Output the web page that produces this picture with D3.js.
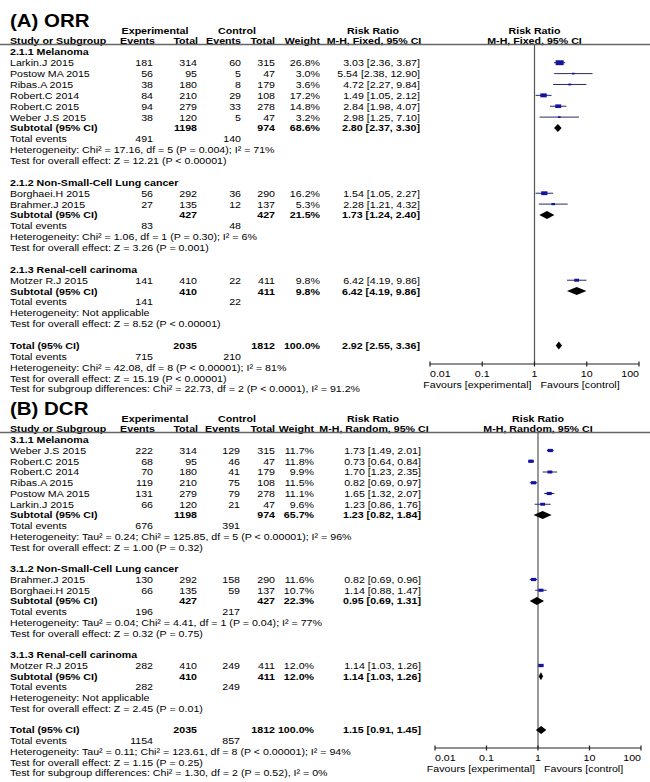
<!DOCTYPE html>
<html>
<head>
<meta charset="utf-8">
<script src="https://cdn.jsdelivr.net/npm/d3@7"></script>
<style>
  body { margin: 0; background: #fff; }
  text { font-family: "Liberation Sans", Arial, sans-serif; fill: #000; }
</style>
</head>
<body>
<script>
// ---------- (A) ORR data ----------
var orrGroups = ["2.1.1 Melanoma", "2.1.2 Non-Small-Cell Lung cancer", "2.1.3 Renal-cell carinoma"];
var orrStudy = ["Larkin.J 2015", "Postow MA 2015", "Ribas.A 2015", "Robert.C 2014", "Robert.C 2015", "Weber J.S 2015",
                "Borghaei.H 2015", "Brahmer.J 2015", "Motzer R.J 2015"];
var orrGroupOf = [0, 0, 0, 0, 0, 0, 1, 1, 2];
var orrExpEvents = [181, 56, 38, 84, 94, 38, 56, 27, 141];
var orrExpTotal  = [314, 95, 180, 210, 279, 120, 292, 135, 410];
var orrCtlEvents = [60, 5, 8, 29, 33, 5, 36, 12, 22];
var orrCtlTotal  = [315, 47, 179, 108, 278, 47, 290, 137, 411];
var orrWeight    = [26.8, 3.0, 3.6, 17.2, 14.8, 3.2, 16.2, 5.3, 9.8];
var orrRR        = [3.03, 5.54, 4.72, 1.49, 2.84, 2.98, 1.54, 2.28, 6.42];
var orrLo        = [2.36, 2.38, 2.27, 1.05, 1.98, 1.25, 1.05, 1.21, 4.19];
var orrHi        = [3.87, 12.90, 9.84, 2.12, 4.07, 7.10, 2.27, 4.32, 9.86];

var orrSubExpTotal = [1198, 427, 410];
var orrSubCtlTotal = [974, 427, 411];
var orrSubWeight   = [68.6, 21.5, 9.8];
var orrSubRR       = [2.80, 1.73, 6.42];
var orrSubLo       = [2.37, 1.24, 4.19];
var orrSubHi       = [3.30, 2.40, 9.86];
var orrSubExpEv    = [491, 83, 141];
var orrSubCtlEv    = [140, 48, 22];
var orrSubHet = ["Heterogeneity: Chi\u00b2 = 17.16, df = 5 (P = 0.004); I\u00b2 = 71%",
                 "Heterogeneity: Chi\u00b2 = 1.06, df = 1 (P = 0.30); I\u00b2 = 6%",
                 "Heterogeneity: Not applicable"];
var orrSubTest = ["Test for overall effect: Z = 12.21 (P < 0.00001)",
                  "Test for overall effect: Z = 3.26 (P = 0.001)",
                  "Test for overall effect: Z = 8.52 (P < 0.00001)"];
var orrTotal = { expTotal: 2035, ctlTotal: 1812, weight: 100.0, rr: 2.92, lo: 2.55, hi: 3.36, expEv: 715, ctlEv: 210 };
var orrFooter = ["Heterogeneity: Chi\u00b2 = 42.08, df = 8 (P < 0.00001); I\u00b2 = 81%",
                 "Test for overall effect: Z = 15.19 (P < 0.00001)",
                 "Test for subgroup differences: Chi\u00b2 = 22.73, df = 2 (P < 0.0001), I\u00b2 = 91.2%"];

// ---------- (B) DCR data ----------
var dcrGroups = ["3.1.1 Melanoma", "3.1.2 Non-Small-Cell Lung cancer", "3.1.3 Renal-cell carinoma"];
var dcrStudy = ["Weber J.S 2015", "Robert.C 2015", "Robert.C 2014", "Ribas.A 2015", "Postow MA 2015", "Larkin.J 2015",
                "Brahmer.J 2015", "Borghaei.H 2015", "Motzer R.J 2015"];
var dcrGroupOf = [0, 0, 0, 0, 0, 0, 1, 1, 2];
var dcrExpEvents = [222, 68, 70, 119, 131, 66, 130, 66, 282];
var dcrExpTotal  = [314, 95, 180, 210, 279, 120, 292, 135, 410];
var dcrCtlEvents = [129, 46, 41, 75, 79, 21, 158, 59, 249];
var dcrCtlTotal  = [315, 47, 179, 108, 278, 47, 290, 137, 411];
var dcrWeight    = [11.7, 11.8, 9.9, 11.5, 11.1, 9.6, 11.6, 10.7, 12.0];
var dcrRR        = [1.73, 0.73, 1.70, 0.82, 1.65, 1.23, 0.82, 1.14, 1.14];
var dcrLo        = [1.49, 0.64, 1.23, 0.69, 1.32, 0.86, 0.69, 0.88, 1.03];
var dcrHi        = [2.01, 0.84, 2.35, 0.97, 2.07, 1.76, 0.96, 1.47, 1.26];

var dcrSubExpTotal = [1198, 427, 410];
var dcrSubCtlTotal = [974, 427, 411];
var dcrSubWeight   = [65.7, 22.3, 12.0];
var dcrSubRR       = [1.23, 0.95, 1.14];
var dcrSubLo       = [0.82, 0.69, 1.03];
var dcrSubHi       = [1.84, 1.31, 1.26];
var dcrSubExpEv    = [676, 196, 282];
var dcrSubCtlEv    = [391, 217, 249];
var dcrSubHet = ["Heterogeneity: Tau\u00b2 = 0.24; Chi\u00b2 = 125.85, df = 5 (P < 0.00001); I\u00b2 = 96%",
                 "Heterogeneity: Tau\u00b2 = 0.04; Chi\u00b2 = 4.41, df = 1 (P = 0.04); I\u00b2 = 77%",
                 "Heterogeneity: Not applicable"];
var dcrSubTest = ["Test for overall effect: Z = 1.00 (P = 0.32)",
                  "Test for overall effect: Z = 0.32 (P = 0.75)",
                  "Test for overall effect: Z = 2.45 (P = 0.01)"];
var dcrTotal = { expTotal: 2035, ctlTotal: 1812, weight: 100.0, rr: 1.15, lo: 0.91, hi: 1.45, expEv: 1154, ctlEv: 857 };
var dcrFooter = ["Heterogeneity: Tau\u00b2 = 0.11; Chi\u00b2 = 123.61, df = 8 (P < 0.00001); I\u00b2 = 94%",
                 "Test for overall effect: Z = 1.15 (P = 0.25)",
                 "Test for subgroup differences: Chi\u00b2 = 1.30, df = 2 (P = 0.52), I\u00b2 = 0%"];

var axisTicks = [0.01, 0.1, 1, 10, 100];
var axisTickLabels = ["0.01", "0.1", "1", "10", "100"];

// ---------- drawing ----------
var FS = 9.5;   // font size
var SX = 1.12;  // horizontal stretch of the source image

var svg = d3.select("body").append("svg")
            .attr("width", 650)
            .attr("height", 782);

function label(g, x, y, s, anchor, bold) {
  return g.append("text")
          .attr("transform", "translate(" + x + "," + y + ") scale(" + SX + ",1)")
          .attr("text-anchor", anchor || "start")
          .attr("font-size", FS)
          .attr("font-weight", bold ? "bold" : "normal")
          .text(s);
}

function fmtCI(rr, lo, hi) {
  return rr.toFixed(2) + " [" + lo.toFixed(2) + ", " + hi.toFixed(2) + "]";
}

function drawPanel(p, d) {
  var g = svg.append("g");
  var rowY = function (i) { return p.top + p.step * i; };
  var base = function (i) { return rowY(i) + 3.4; };
  var x = d3.scaleLog().domain([0.01, 100]).range(p.range);
  var col = p.cols; // right edges of numeric columns

  // title
  g.append("text")
   .attr("transform", "translate(10," + p.titleY + ") scale(1.17,1)")
   .attr("font-family", "Lato, 'Open Sans', sans-serif")
   .attr("font-weight", "bold")
   .attr("font-size", 17.5)
   .text(p.title);

  // header rows
  label(g, 155, base(0), "Experimental", "middle", true);
  label(g, 237, base(0), "Control", "middle", true);
  label(g, 373, base(0), "Risk Ratio", "middle", true);
  label(g, x(1), base(0), "Risk Ratio", "middle", true);
  label(g, 10, base(1), "Study or Subgroup", "start", true);
  label(g, col.expEv + 2, base(1), "Events", "end", true);
  label(g, col.expTot + 1, base(1), "Total", "end", true);
  label(g, col.ctlEv, base(1), "Events", "end", true);
  label(g, col.ctlTot, base(1), "Total", "end", true);
  label(g, col.weight, base(1), "Weight", "end", true);
  label(g, 374, base(1), p.method, "middle", true);
  label(g, x(1), base(1), p.method, "middle", true);

  var lineY = rowY(1) + 3.5;
  g.append("line").attr("x1", 0).attr("x2", 650).attr("y1", lineY).attr("y2", lineY)
   .attr("stroke", "#666").attr("stroke-width", 1.3);

  var i = 2;
  var studies = [], diamonds = [];
  d.groups.forEach(function (name, gi) {
    label(g, 10, base(i), name, "start", true); i++;
    d.groupOf.forEach(function (k, s) {
      if (k !== gi) return;
      label(g, 10, base(i), d.study[s]);
      label(g, col.expEv, base(i), d.expEvents[s], "end");
      label(g, col.expTot, base(i), d.expTotal[s], "end");
      label(g, col.ctlEv, base(i), d.ctlEvents[s], "end");
      label(g, col.ctlTot, base(i), d.ctlTotal[s], "end");
      label(g, col.weight, base(i), d.weight[s].toFixed(1) + "%", "end");
      label(g, col.rr, base(i), fmtCI(d.rr[s], d.lo[s], d.hi[s]), "end");
      studies.push({ y: rowY(i), rr: d.rr[s], lo: d.lo[s], hi: d.hi[s], w: d.weight[s] });
      i++;
    });
    label(g, 10, base(i), "Subtotal (95% CI)", "start", true);
    label(g, col.expTot, base(i), d.subExpTotal[gi], "end", true);
    label(g, col.ctlTot, base(i), d.subCtlTotal[gi], "end", true);
    label(g, col.weight, base(i), d.subWeight[gi].toFixed(1) + "%", "end", true);
    label(g, col.rr, base(i), fmtCI(d.subRR[gi], d.subLo[gi], d.subHi[gi]), "end", true);
    diamonds.push({ y: rowY(i), rr: d.subRR[gi], lo: d.subLo[gi], hi: d.subHi[gi] });
    i++;
    label(g, 10, base(i), "Total events");
    label(g, col.expEv, base(i), d.subExpEv[gi], "end");
    label(g, col.ctlEv, base(i), d.subCtlEv[gi], "end");
    i++;
    label(g, 10, base(i), d.subHet[gi]); i++;
    label(g, 10, base(i), d.subTest[gi]); i++;
    i++; // blank row
  });

  var t = d.total;
  label(g, 10, base(i), "Total (95% CI)", "start", true);
  label(g, col.expTot, base(i), t.expTotal, "end", true);
  label(g, col.ctlTot, base(i), t.ctlTotal, "end", true);
  label(g, col.weight, base(i), t.weight.toFixed(1) + "%", "end", true);
  label(g, col.rr, base(i), fmtCI(t.rr, t.lo, t.hi), "end", true);
  diamonds.push({ y: rowY(i), rr: t.rr, lo: t.lo, hi: t.hi });
  i++;
  label(g, 10, base(i), "Total events");
  label(g, col.expEv, base(i), t.expEv, "end");
  label(g, col.ctlEv, base(i), t.ctlEv, "end");
  i++;
  d.footer.forEach(function (s) { label(g, 10, base(i), s); i++; });

  // forest plot
  var axisY = p.axisY;
  g.append("line").attr("x1", x(1)).attr("x2", x(1)).attr("y1", lineY).attr("y2", axisY)
   .attr("stroke", "#555").attr("stroke-width", 1.2);

  g.selectAll("line.ci").data(studies).enter().append("line")
   .attr("class", "ci")
   .attr("x1", function (s) { return x(s.lo); })
   .attr("x2", function (s) { return x(s.hi); })
   .attr("y1", function (s) { return s.y; })
   .attr("y2", function (s) { return s.y; })
   .attr("stroke", "#2a2a60").attr("stroke-width", 1);

  g.selectAll("rect.sq").data(studies).enter().append("rect")
   .attr("class", "sq")
   .attr("x", function (s) { return x(s.rr) - 0.775 * Math.sqrt(s.w); })
   .attr("y", function (s) { return s.y - 0.5 * Math.max(1.6, 0.95 * Math.sqrt(s.w)); })
   .attr("width", function (s) { return 1.55 * Math.sqrt(s.w); })
   .attr("height", function (s) { return Math.max(1.6, 0.95 * Math.sqrt(s.w)); })
   .attr("fill", "#1414a0");

  g.selectAll("path.dm").data(diamonds).enter().append("path")
   .attr("class", "dm")
   .attr("d", function (s) {
     var h = 4;
     return "M" + x(s.lo) + "," + s.y + "L" + x(s.rr) + "," + (s.y - h) +
            "L" + x(s.hi) + "," + s.y + "L" + x(s.rr) + "," + (s.y + h) + "Z";
   })
   .attr("fill", "#000");

  // axis
  g.append("line").attr("x1", p.range[0]).attr("x2", p.range[1]).attr("y1", axisY).attr("y2", axisY)
   .attr("stroke", "#222").attr("stroke-width", 1.2);
  g.selectAll("line.tk").data(axisTicks).enter().append("line")
   .attr("class", "tk")
   .attr("x1", function (v) { return x(v); }).attr("x2", function (v) { return x(v); })
   .attr("y1", axisY - 2.5).attr("y2", axisY + 2.5)
   .attr("stroke", "#222").attr("stroke-width", 1.2);
  axisTicks.forEach(function (v, k) {
    var anchor = k === 0 ? "start" : (k === axisTicks.length - 1 ? "end" : "middle");
    label(g, x(v), axisY + 12.5, axisTickLabels[k], anchor);
  });
  label(g, x(1) - 3, axisY + 23.5, "Favours [experimental]", "end");
  label(g, x(1) + 6, axisY + 23.5, "Favours [control]", "start");
}

drawPanel(
  { title: "(A) ORR", titleY: 27, top: 30.1, step: 10.875, range: [430, 639], axisY: 364,
    method: "M-H, Fixed, 95% CI",
    cols: { expEv: 153, expTot: 197, ctlEv: 241, ctlTot: 275, weight: 320, rr: 420 } },
  { groups: orrGroups, study: orrStudy, groupOf: orrGroupOf,
    expEvents: orrExpEvents, expTotal: orrExpTotal, ctlEvents: orrCtlEvents, ctlTotal: orrCtlTotal,
    weight: orrWeight, rr: orrRR, lo: orrLo, hi: orrHi,
    subExpTotal: orrSubExpTotal, subCtlTotal: orrSubCtlTotal, subWeight: orrSubWeight,
    subRR: orrSubRR, subLo: orrSubLo, subHi: orrSubHi, subExpEv: orrSubExpEv, subCtlEv: orrSubCtlEv,
    subHet: orrSubHet, subTest: orrSubTest, total: orrTotal, footer: orrFooter });

drawPanel(
  { title: "(B) DCR", titleY: 415, top: 418.25, step: 10.75, range: [435, 641], axisY: 748,
    method: "M-H, Random, 95% CI",
    cols: { expEv: 153, expTot: 197, ctlEv: 240, ctlTot: 275, weight: 314, rr: 421 } },
  { groups: dcrGroups, study: dcrStudy, groupOf: dcrGroupOf,
    expEvents: dcrExpEvents, expTotal: dcrExpTotal, ctlEvents: dcrCtlEvents, ctlTotal: dcrCtlTotal,
    weight: dcrWeight, rr: dcrRR, lo: dcrLo, hi: dcrHi,
    subExpTotal: dcrSubExpTotal, subCtlTotal: dcrSubCtlTotal, subWeight: dcrSubWeight,
    subRR: dcrSubRR, subLo: dcrSubLo, subHi: dcrSubHi, subExpEv: dcrSubExpEv, subCtlEv: dcrSubCtlEv,
    subHet: dcrSubHet, subTest: dcrSubTest, total: dcrTotal, footer: dcrFooter });
</script>
</body>
</html>
